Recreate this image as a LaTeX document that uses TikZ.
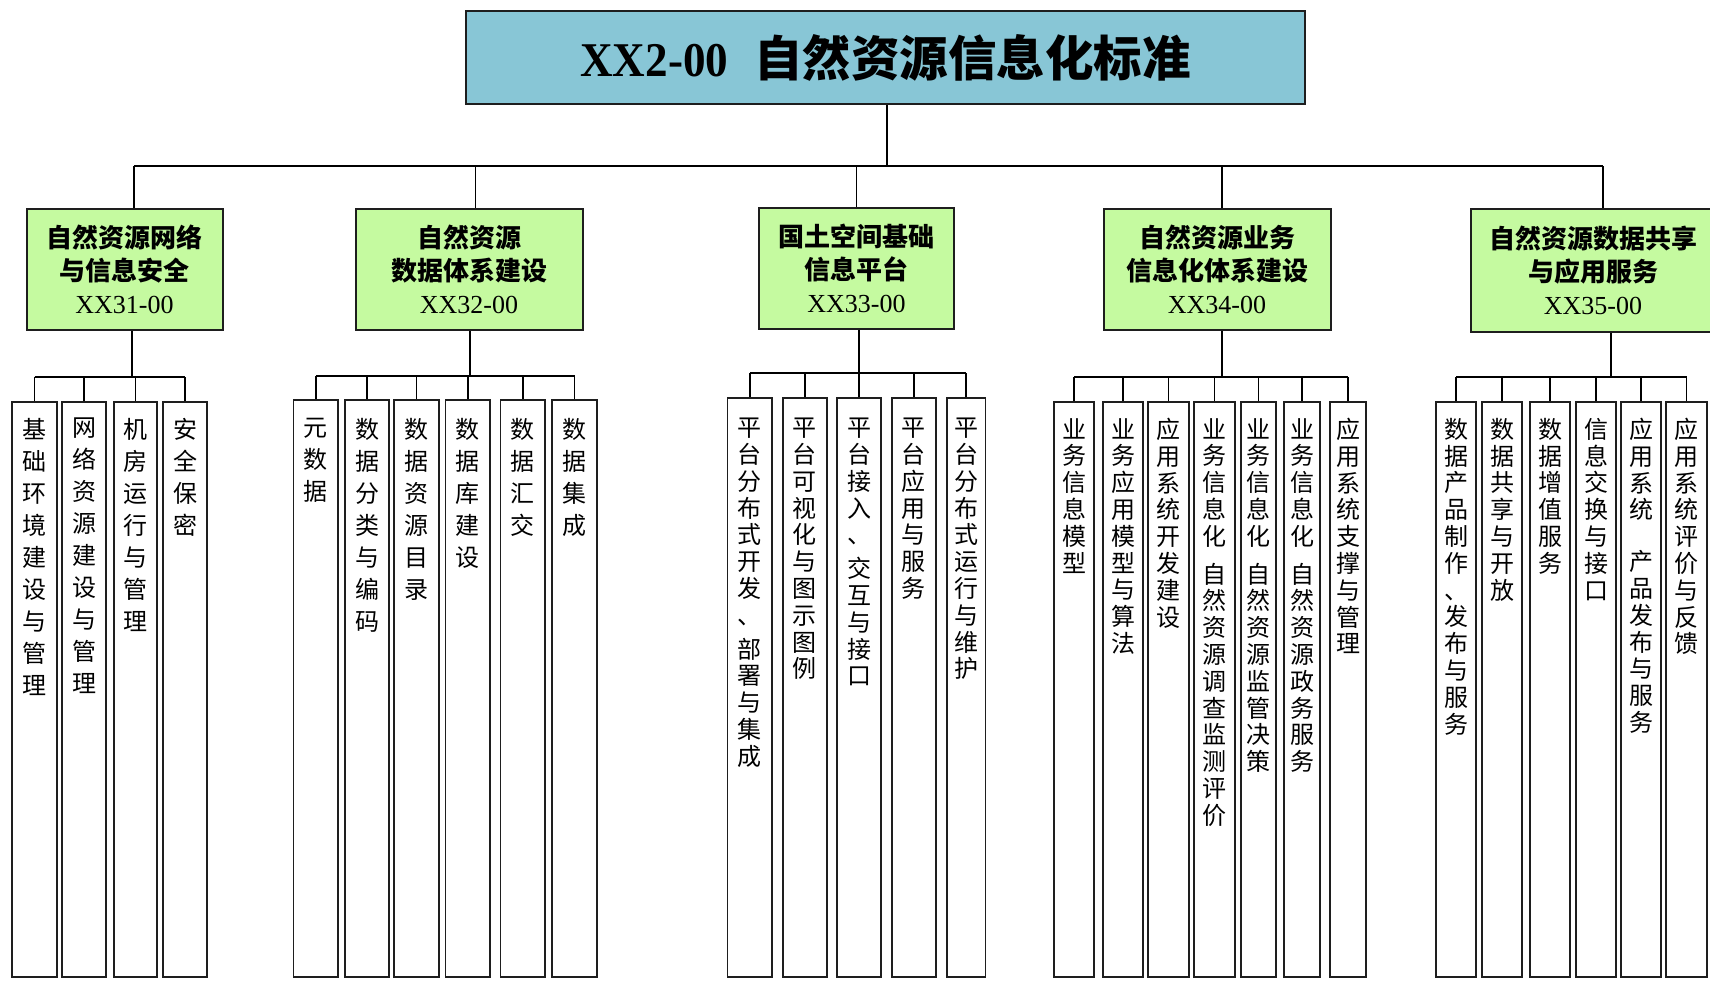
\documentclass[tikz,border=0pt]{standalone}
\usepackage{fontspec}
\setmainfont{Noto Sans CJK SC}
\newfontfamily\lat{Liberation Serif}
\newfontfamily\latc[FakeStretch=0.93]{Liberation Serif}
\definecolor{titleblue}{RGB}{136,198,214}
\definecolor{catgreen}{RGB}{197,250,160}
\definecolor{edge}{RGB}{30,30,30}
\tikzset{
  conn/.style={draw=black, line width=1.6pt},
  titlebox/.style={draw=edge, line width=2pt, fill=titleblue, rectangle, inner sep=0pt,
    font=\bfseries\fontsize{48.5}{52}\selectfont},
  catbox/.style={draw=edge, line width=2pt, fill=catgreen, rectangle, inner sep=0pt,
    minimum height=121, align=center, font=\bfseries\fontsize{26}{33}\selectfont},
  leafbox/.style={draw=edge, line width=1.8pt, fill=white, rectangle, inner sep=0pt},
  leafA/.style={align=center, inner sep=0pt, anchor=north, font=\fontsize{24}{32}\selectfont},
  leafB/.style={align=center, inner sep=0pt, anchor=north, font=\fontsize{24}{26.8}\selectfont},
}
% #1 name, #2 left x, #3 right x, #4 top y, #5 text style, #6 text, #7 sub-bus coordinate
\newcommand{\leafnode}[7]{%
  \node[leafbox, minimum width={#3-#2}, minimum height={977-#4}] (#1) at ({(#2+#3)/2},{(#4+977)/2}) {};
  \node[#5] (#1t) at (#1.north |- tt) {#6};
  \draw[conn] (#1.north) -- (#1.north |- #7);
}
\begin{document}
\begin{tikzpicture}[x=1pt,y=-1pt]
\useasboundingbox (0,0) rectangle (1710,980);
\fill[white] (0,0) rectangle (1710,980);
\coordinate (mb) at (0,166);
\coordinate (tt) at (0,418);
\coordinate (s1) at (0,377);
\coordinate (s2) at (0,376);
\coordinate (s3) at (0,373);
\coordinate (s4) at (0,377);
\coordinate (s5) at (0,377);

% root
\node[titlebox, minimum width=839, minimum height=93] (root) at (885.5,57.5)
  {{\latc XX2-00}\hspace{26pt}自然资源信息化标准};

% categories
\node[catbox, minimum width=196] (c1) at (124.5,269.5) {自然资源网络\\与信息安全\\{\lat\mdseries XX31-00}};
\node[catbox, minimum width=227] (c2) at (469,269.5) {自然资源\\数据体系建设\\{\lat\mdseries XX32-00}};
\node[catbox, minimum width=195] (c3) at (856.5,268) {国土空间基础\\信息平台\\{\lat\mdseries XX33-00}};
\node[catbox, minimum width=227] (c4) at (1217,269.5) {自然资源业务\\信息化体系建设\\{\lat\mdseries XX34-00}};
\node[catbox, minimum width=244, minimum height=123] (c5) at (1593,270.5) {自然资源数据共享\\与应用服务\\{\lat\mdseries XX35-00}};

% main bus
\draw[conn] ([xshift=1.5pt]root.south) -- ([xshift=1.5pt]root.south |- mb);
\draw[conn] ([xshift=9.5pt]c1.north |- mb) -- ([xshift=10pt]c5.north |- mb);
\foreach \c/\dx in {c1/9.5,c2/6.5,c3/0,c4/5,c5/10} { \draw[conn] ([xshift=\dx pt]\c.north) -- ([xshift=\dx pt]\c.north |- mb); }

% group 1
\leafnode{a1}{12}{57}{402}{leafA}{基\\础\\环\\境\\建\\设\\与\\管\\理}{s1}
\leafnode{a2}{62}{106}{402}{leafA}{网\\络\\资\\源\\建\\设\\与\\管\\理}{s1}
\leafnode{a3}{114}{157}{402}{leafA}{机\\房\\运\\行\\与\\管\\理}{s1}
\leafnode{a4}{163}{207}{402}{leafA}{安\\全\\保\\密}{s1}
\draw[conn] ([xshift=7.5pt]c1.south) -- ([xshift=7.5pt]c1.south |- s1);
\draw[conn] (a1.north |- s1) -- (a4.north |- s1);

% group 2
\leafnode{b1}{293.5}{338}{400}{leafA}{元\\数\\据}{s2}
\leafnode{b2}{345}{389}{400}{leafA}{数\\据\\分\\类\\与\\编\\码}{s2}
\leafnode{b3}{394}{439}{400}{leafA}{数\\据\\资\\源\\目\\录}{s2}
\leafnode{b4}{445.5}{490}{400}{leafA}{数\\据\\库\\建\\设}{s2}
\leafnode{b5}{500.5}{545}{400}{leafA}{数\\据\\汇\\交}{s2}
\leafnode{b6}{552}{597}{400}{leafA}{数\\据\\集\\成}{s2}
\draw[conn] ([xshift=1pt]c2.south) -- ([xshift=1pt]c2.south |- s2);
\draw[conn] (b1.north |- s2) -- (b6.north |- s2);

% group 3
\leafnode{d1}{727.5}{772}{398}{leafB}{平\\台\\分\\布\\式\\开\\发\\、\\[7pt]部\\署\\与\\集\\成}{s3}
\leafnode{d2}{783}{826.7}{398}{leafB}{平\\台\\可\\视\\化\\与\\图\\示\\图\\例}{s3}
\leafnode{d3}{837}{881}{398}{leafB}{平\\台\\接\\入\\、\\[7pt]交\\互\\与\\接\\口}{s3}
\leafnode{d4}{892}{935.7}{398}{leafB}{平\\台\\应\\用\\与\\服\\务}{s3}
\leafnode{d5}{947}{985.5}{398}{leafB}{平\\台\\分\\布\\式\\运\\行\\与\\维\\护}{s3}
\draw[conn] ([xshift=2.5pt]c3.south) -- ([xshift=2.5pt]c3.south |- s3);
\draw[conn] (d1.north |- s3) -- (d5.north |- s3);

% group 4
\leafnode{e1}{1054}{1094}{402}{leafB}{业\\务\\信\\息\\模\\型}{s4}
\leafnode{e2}{1103}{1143}{402}{leafB}{业\\务\\应\\用\\模\\型\\与\\算\\法}{s4}
\leafnode{e3}{1148}{1189}{402}{leafB}{应\\用\\系\\统\\开\\发\\建\\设}{s4}
\leafnode{e4}{1194}{1235}{402}{leafB}{业\\务\\信\\息\\化\\[11pt]自\\然\\资\\源\\调\\查\\监\\测\\评\\价}{s4}
\leafnode{e5}{1241}{1276}{402}{leafB}{业\\务\\信\\息\\化\\[11pt]自\\然\\资\\源\\监\\管\\决\\策}{s4}
\leafnode{e6}{1284}{1320}{402}{leafB}{业\\务\\信\\息\\化\\[11pt]自\\然\\资\\源\\政\\务\\服\\务}{s4}
\leafnode{e7}{1330}{1366}{402}{leafB}{应\\用\\系\\统\\支\\撑\\与\\管\\理}{s4}
\draw[conn] ([xshift=5pt]c4.south) -- ([xshift=5pt]c4.south |- s4);
\draw[conn] (e1.north |- s4) -- (e7.north |- s4);

% group 5
\leafnode{f1}{1436}{1476}{402}{leafB}{数\\据\\产\\品\\制\\作\\、\\发\\布\\与\\服\\务}{s5}
\leafnode{f2}{1482}{1522}{402}{leafB}{数\\据\\共\\享\\与\\开\\放}{s5}
\leafnode{f3}{1530}{1570}{402}{leafB}{数\\据\\增\\值\\服\\务}{s5}
\leafnode{f4}{1576}{1616}{402}{leafB}{信\\息\\交\\换\\与\\接\\口}{s5}
\leafnode{f5}{1621}{1661}{402}{leafB}{应\\用\\系\\统\\[25pt]产\\品\\发\\布\\与\\服\\务}{s5}
\leafnode{f6}{1666}{1707}{402}{leafB}{应\\用\\系\\统\\评\\价\\与\\反\\馈}{s5}
\draw[conn] ([xshift=18pt]c5.south) -- ([xshift=18pt]c5.south |- s5);
\draw[conn] (f1.north |- s5) -- (f6.north |- s5);
\end{tikzpicture}
\end{document}
